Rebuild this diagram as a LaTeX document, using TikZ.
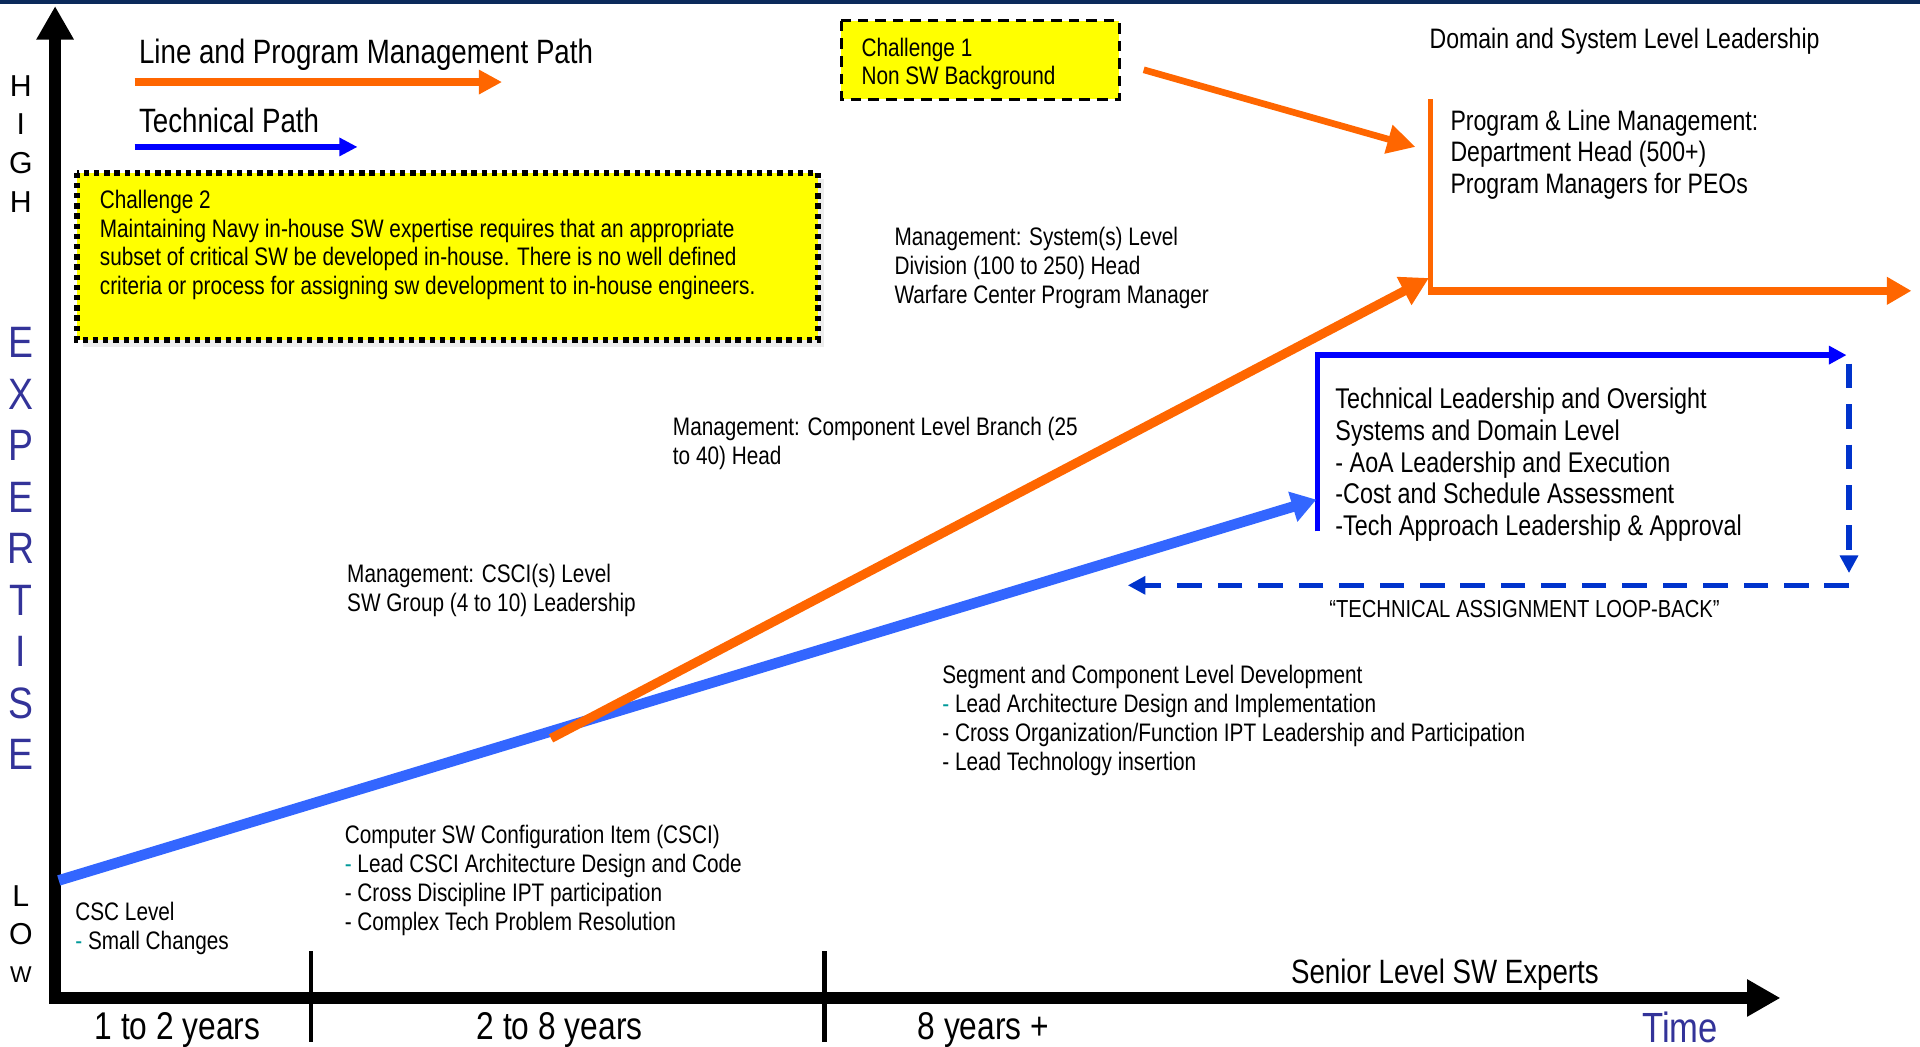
\documentclass[tikz,border=0pt]{standalone}
\usepackage{fontspec}
\setmainfont{Liberation Sans}[FakeStretch=0.82]
\newfontfamily\axisfont{Liberation Sans}
\newfontfamily\expfont{Liberation Sans}[FakeStretch=0.85]
\usetikzlibrary{arrows.meta}

\definecolor{navybar}{HTML}{0B2A5B}
\definecolor{mgmtorange}{HTML}{FF6600}
\definecolor{techblue}{HTML}{0000FF}
\definecolor{pathblue}{HTML}{3366FF}
\definecolor{loopblue}{HTML}{0033CC}
\definecolor{expblue}{HTML}{333399}
\definecolor{dashteal}{HTML}{009999}
\definecolor{challyellow}{HTML}{FFFF00}

\newcommand{\tdash}{\textcolor{dashteal}{-}}

\begin{document}
\begin{tikzpicture}[x=0.012245cm, y=-0.012245cm,
  lbl/.style={anchor=west, inner sep=0pt, font=\fontsize{7.2}{8.2}\selectfont},
  lbls/.style={anchor=north west, inner sep=0pt, align=left, font=\fontsize{7.2}{8.2}\selectfont},
  midlbls/.style={anchor=north west, inner sep=0pt, align=left, font=\fontsize{8}{9.06}\selectfont},
  yearlbl/.style={inner sep=0pt, font=\fontsize{11}{13}\selectfont},
  legendlbl/.style={anchor=west, inner sep=0pt, font=\fontsize{9.6}{11}\selectfont},
  axisltr/.style={inner sep=0pt, font=\axisfont\fontsize{8.6}{10}\selectfont},
  expltr/.style={inner sep=0pt, text=expblue, font=\expfont\fontsize{12.5}{14}\selectfont},
  axisarrow/.style={line width=3.2pt, -{Triangle[length=9.5pt,width=10pt]}},
  tickline/.style={line width=1.4pt},
  legorange/.style={draw=mgmtorange, line width=2.2pt, -{Triangle[length=6.6pt,width=6.6pt]}},
  legblue/.style={draw=techblue, line width=1.7pt, -{Triangle[length=5.2pt,width=5pt]}},
  mgmtpath/.style={draw=mgmtorange, line width=2.6pt, -{Triangle[length=8pt,width=8.5pt]}},
  techpath/.style={draw=pathblue, line width=3pt, -{Triangle[length=7pt,width=8.5pt]}},
  toporange/.style={draw=mgmtorange, line width=2.4pt, -{Triangle[length=7pt,width=7.5pt]}},
  techbox/.style={draw=techblue, line width=1.6pt},
  loopback/.style={draw=loopblue, line width=1.5pt, dash pattern=on 7pt off 4.5pt,
    -{Triangle[length=5pt,width=5pt]}},
]
\useasboundingbox (0,0) rectangle (1568,855);
\fill[navybar] (0,0) rectangle (1568,3.5);

% axes
\coordinate (origin) at (45,815);
\coordinate (ytop) at (45,5);
\coordinate (xend) at (1454,815);
\draw[axisarrow, shorten <=-1.6pt] (origin) -- (ytop);
\draw[axisarrow, shorten <=-1.6pt] (origin) -- (xend);

\coordinate (tickAtop) at (254,777);
\coordinate (tickAbot) at (254,851);
\coordinate (tickBtop) at (673,777);
\coordinate (tickBbot) at (673,851);
\draw[tickline] (tickAtop) -- (tickAbot);
\draw[tickline] (tickBtop) -- (tickBbot);

\node[yearlbl] (yrone) at (145,841) {1 to 2 years};
\node[yearlbl] (yrtwo) at (457,841) {2 to 8 years};
\node[yearlbl] (yrthree) at (803,841) {8 years +};
\node[inner sep=0pt, text=expblue, font=\fontsize{12}{14}\selectfont] (time) at (1372,839) {Time};
\node[inner sep=0pt, font=\fontsize{9.6}{11}\selectfont] (senior) at (1180,796) {Senior Level SW Experts};

\foreach \ltr/\yy in {H/70, I/101, G/133, H/165}
  \node[axisltr] (high\yy) at (17,\yy) {\ltr};
\foreach \ltr [count=\i from 0] in {E,X,P,E,R,T,I,S,E}
  \node[expltr] (exp\i) at (17,280+42*\i) {\ltr};
\node[axisltr] (lowL) at (17,732) {L};
\node[axisltr] (lowO) at (17,763) {O};
\node[axisltr, font=\axisfont\fontsize{6.5}{8}\selectfont] (lowW) at (17,796) {W};

% legend
\node[legendlbl] (lpmtxt) at (113,45) {Line and Program Management Path};
\coordinate (lpmA) at (110,67);
\coordinate (lpmB) at (410,67);
\draw[legorange] (lpmA) -- (lpmB);
\node[legendlbl] (techtxt) at (113,98) {Technical Path};
\coordinate (techA) at (110,120);
\coordinate (techB) at (292,120);
\draw[legblue] (techA) -- (techB);

% challenges
\fill[gray!15] (68,146) rectangle (673,283);
\draw[fill=challyellow, line width=1.7pt, dash pattern=on 1.5pt off 1.4pt] (63,141) rectangle (668,278);
\node[lbls] (chtwo) at (81,154.5) {Challenge 2\\
  Maintaining Navy in-house SW expertise requires that an appropriate\\
  subset of critical SW be developed in-house. There is no well defined\\
  criteria or process for assigning sw development to in-house engineers.};

\draw[fill=challyellow, line width=0.8pt, dash pattern=on 3pt off 2pt] (687,17) rectangle (914,81);
\node[lbls] (chone) at (703,30.3) {Challenge 1\\Non SW Background};
\coordinate (choneout) at (934,57);
\coordinate (plmin) at (1156,120);
\draw[draw=mgmtorange, line width=1.9pt, -{Triangle[length=8pt,width=8pt]}] (choneout) -- (plmin);

% domain level
\node[anchor=west, inner sep=0pt, font=\fontsize{8}{9}\selectfont] (domain) at (1167,33.5) {Domain and System Level Leadership};
\coordinate (plmtop) at (1168,81);
\coordinate (plmcorner) at (1168,237.5);
\coordinate (plmend) at (1561,237.5);
\draw[draw=mgmtorange, line width=1.4pt] (plmtop) -- (plmcorner);
\draw[toporange, shorten <=-0.7pt] (plmcorner) -- (plmend);
\node[midlbls] (plm) at (1184,89) {Program \& Line Management:\\Department Head (500+)\\Program Managers for PEOs};

% technical box and loop back
\coordinate (tlbot) at (1076,434);
\coordinate (tltop) at (1076,290);
\coordinate (tlend) at (1508,290);
\draw[techbox] (tlbot) -- (tltop);
\draw[techbox, shorten <=-0.8pt, -{Triangle[length=5pt,width=5pt]}] (tltop) -- (tlend);
\node[anchor=north west, inner sep=0pt, align=left, font=\fontsize{8.1}{9.06}\selectfont] (techlead) at (1090,316)
  {Technical Leadership and Oversight\\Systems and Domain Level\\- AoA Leadership and Execution\\
   -Cost and Schedule Assessment\\-Tech Approach Leadership \& Approval};
\coordinate (loopA) at (1510,297);
\coordinate (loopB) at (1510,468);
\coordinate (loopC) at (1510,478);
\coordinate (loopD) at (921,478);
\draw[loopback] (loopA) -- (loopB);
\draw[loopback] (loopC) -- (loopD);
\node[inner sep=0pt, font=\fontsize{7}{8}\selectfont] (looptxt) at (1245,497) {``TECHNICAL ASSIGNMENT LOOP-BACK''};

% career paths
\coordinate (techstart) at (48,719);
\coordinate (techstop) at (1075,408);
\draw[techpath] (techstart) -- (techstop);
\coordinate (mgmtstart) at (450,603);
\coordinate (mgmtstop) at (1167,227);
\draw[mgmtpath] (mgmtstart) -- (mgmtstop);

% level labels
\node[lbls] (sysmgmt) at (730,185.3) {Management: System(s) Level\\Division (100 to 250) Head\\Warfare Center Program Manager};
\node[lbls] (compmgmt) at (549,340.3) {Management: Component Level Branch (25\\to 40) Head};
\node[lbls] (cscimgmt) at (283,460.3) {Management: CSCI(s) Level\\SW Group (4 to 10) Leadership};
\node[lbls] (segdev) at (769,543) {Segment and Component Level Development\\
  \tdash{} Lead Architecture Design and Implementation\\
  - Cross Organization/Function IPT Leadership and Participation\\
  - Lead Technology insertion};
\node[lbls] (cscidev) at (281,673.3) {Computer SW Configuration Item (CSCI)\\
  \tdash{} Lead CSCI Architecture Design and Code\\
  - Cross Discipline IPT participation\\
  - Complex Tech Problem Resolution};
\node[lbls] (csc) at (61,736.3) {CSC Level\\\tdash{} Small Changes};
\end{tikzpicture}
\end{document}
